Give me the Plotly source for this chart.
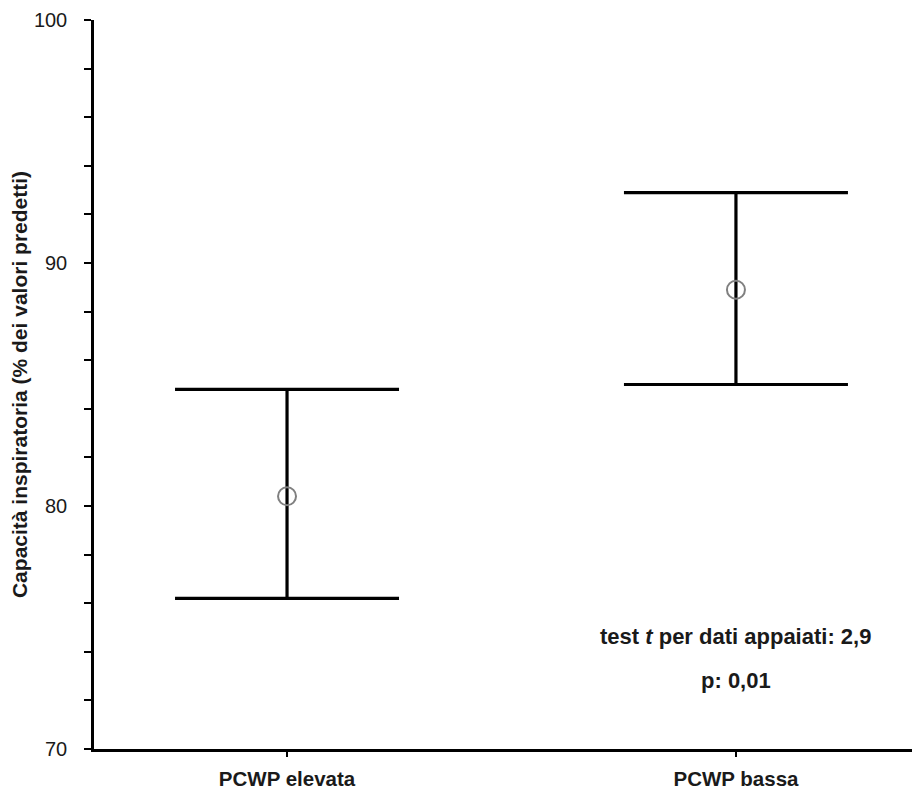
import plotly.graph_objects as go

categories = ["PCWP elevata", "PCWP bassa"]
means = [80.4, 88.9]
upper = [84.8, 92.9]
lower = [76.2, 85.0]
y_ticks = [70, 80, 90, 100]
annot_lines = ["test <i>t</i> per dati appaiati: 2,9", "p: 0,01"]
annot_y = [74.65, 72.8]

xpos = list(range(len(categories)))
plus = [u - m for u, m in zip(upper, means)]
minus = [m - l for m, l in zip(means, lower)]

FONT = "Liberation Sans, Arial, Helvetica"

fig = go.Figure()
fig.add_trace(go.Scatter(
    x=xpos, y=means, mode="markers",
    marker=dict(symbol="circle-open", size=18, color="#808080", line=dict(width=2, color="#808080")),
    error_y=dict(type="data", symmetric=False, array=plus, arrayminus=minus,
                 color="black", thickness=3.2, width=112),
    showlegend=False,
))

for txt, yy in zip(annot_lines, annot_y):
    fig.add_annotation(x=1, y=yy, xref="x", yref="y", text="<b>" + txt + "</b>",
                       showarrow=False, font=dict(family=FONT, size=22, color="#1a1a1a"))

fig.update_layout(
    width=912, height=782,
    margin=dict(l=86, r=0, t=12, b=38),
    paper_bgcolor="white", plot_bgcolor="white",
    font=dict(family=FONT, size=20, color="#1a1a1a"),
    xaxis=dict(range=[-0.43, 1.41], tickvals=xpos,
               ticktext=["<b>" + c + "</b>" for c in categories],
               showline=True, linecolor="black", linewidth=2.5,
               ticks="outside", ticklen=5, tickcolor="black", tickwidth=1.5,
               ticklabelstandoff=5,
               showgrid=False, zeroline=False, tickfont=dict(size=20.5)),
    yaxis=dict(range=[70, 100], tickvals=y_ticks,
               showline=True, linecolor="black", linewidth=2.5,
               ticks="outside", ticklen=7, tickcolor="black", tickwidth=1.5,
               ticklabelstandoff=13,
               minor=dict(dtick=2, ticks="outside", ticklen=7, tickcolor="black", tickwidth=1.5, showgrid=False),
               showgrid=False, zeroline=False, tickfont=dict(size=20),
               title=dict(text="<b>Capacità inspiratoria (% dei valori predetti)</b>",
                          font=dict(size=21), standoff=2)),
)

fig.write_html("out.html")
